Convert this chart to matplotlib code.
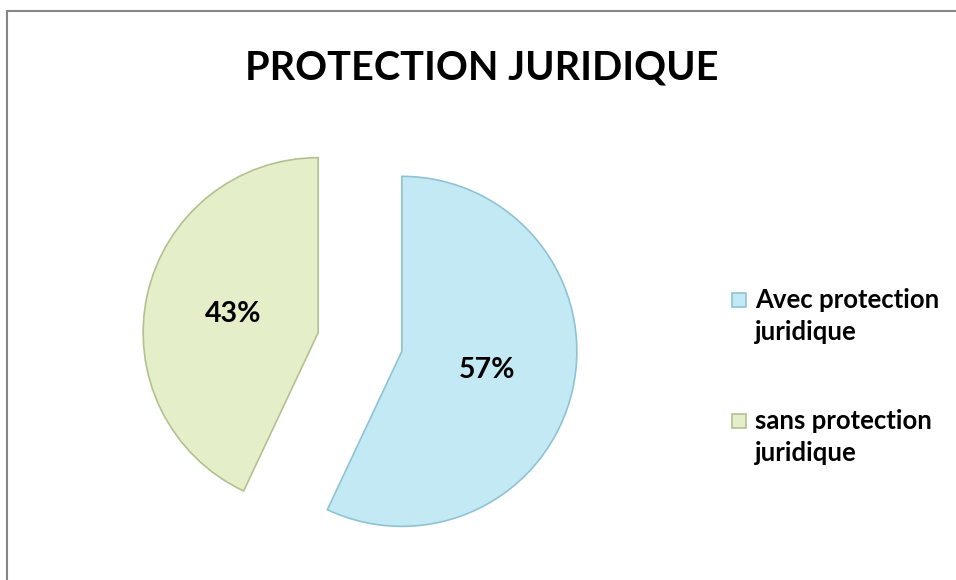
import matplotlib.pyplot as plt
from matplotlib.lines import Line2D

# data
labels = ['Avec protection\njuridique', 'sans protection\njuridique']
shares = [57, 43]
colors = ['#C3EAF4', '#E4EFC9']
edges = ['#8FC3D3', '#B3C190']

FONT = 'Lato'

fig = plt.figure(figsize=(9.56, 5.8), dpi=100)
ax = fig.add_axes([0, 0, 1, 1])

wedges, texts, autotexts = ax.pie(
    shares, colors=colors, startangle=90, counterclock=False,
    explode=[0.245, 0.245], autopct='%d%%', pctdistance=0.5,
    textprops=dict(fontsize=20.5, fontweight='bold', family=FONT))
for w, ec in zip(wedges, edges):
    w.set_edgecolor(ec)
    w.set_linewidth(1.2)

# pie centre (360, 342) px, radius 175 px
r = 175.0
cx, cy = 360, 342
ax.set_aspect('auto')
ax.set_xlim(-cx / r, (956 - cx) / r)
ax.set_ylim(-(580 - cy) / r, cy / r)
ax.axis('off')

fig.text(482 / 956, 1 - 68 / 580, 'PROTECTION JURIDIQUE', ha='center', va='center',
         fontsize=28.5, fontweight='bold', family=FONT)

# legend, one text per line so the spacing can be set
ys = [308, 429]
for lab, c, ec, y in zip(labels, colors, edges, ys):
    fig.patches.append(plt.Rectangle((732 / 956, 1 - (y - 1) / 580), 14 / 956, 14 / 580,
                                     transform=fig.transFigure, facecolor=c,
                                     edgecolor=ec, linewidth=1.2))
    for i, line in enumerate(lab.split('\n')):
        fig.text(755 / 956, 1 - (y + 32 * i) / 580, line, ha='left', va='baseline',
                 fontsize=18.5, fontweight='bold', family=FONT)

# frame (left and top only)
fig.add_artist(Line2D([7 / 956, 7 / 956], [0, 1 - 11 / 580], transform=fig.transFigure,
                      color='#868686', linewidth=1.5))
fig.add_artist(Line2D([7 / 956, 1], [1 - 11 / 580, 1 - 11 / 580], transform=fig.transFigure,
                      color='#868686', linewidth=1.5))

fig.savefig('out.png', dpi=100)
